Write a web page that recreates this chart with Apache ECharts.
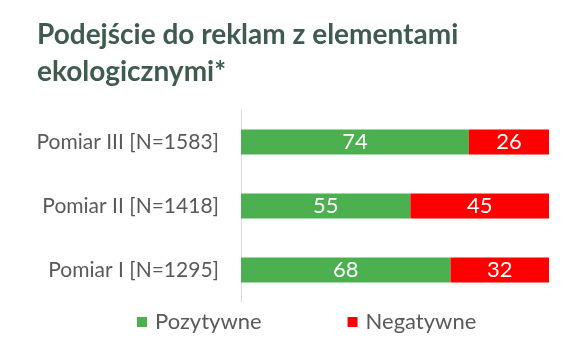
<!DOCTYPE html>
<html><head><meta charset="utf-8">
<script src="https://cdn.jsdelivr.net/npm/echarts@6/dist/echarts.min.js"></script>
<style>html,body{margin:0;padding:0;background:#fff}#c{width:569px;height:358px}</style>
</head><body><div id="c"></div>
<script>
const categories = ['Pomiar I [N=1295]', 'Pomiar II [N=1418]', 'Pomiar III [N=1583]'];
const positive = [68, 55, 74];
const negative = [32, 45, 26];
const seriesNames = ['Pozytywne', 'Negatywne'];
const titleText = 'Podejście do reklam z elementami\nekologicznymi*';

const chart = echarts.init(document.getElementById('c'));
const FONT = 'Lato';
chart.setOption({
  animation: false,
  backgroundColor: '#fff',
  title: {
    text: titleText,
    left: 32, top: 11,
    textStyle: { fontFamily: FONT, fontSize: 28, fontWeight: 'bold', color: '#3f5b4f', lineHeight: 37 }
  },
  legend: {
    data: seriesNames,
    left: 132, top: 306,
    icon: 'rect', itemWidth: 10, itemHeight: 10, itemGap: 86,
    textStyle: { fontFamily: FONT, fontSize: 22, color: '#595959', padding: [0, 0, 0, 3] }
  },
  grid: { left: 241, right: 20, top: 110, bottom: 56, containLabel: false },
  xAxis: { type: 'value', min: 0, max: 100, show: false },
  yAxis: {
    type: 'category', data: categories,
    axisLine: { show: true, lineStyle: { color: '#d9d9d9', width: 1 } },
    axisTick: { show: false },
    axisLabel: { fontFamily: FONT, fontSize: 21, color: '#595959', margin: 22 }
  },
  series: [
    { name: seriesNames[0], type: 'bar', stack: 't', data: positive, barWidth: '39%',
      itemStyle: { color: '#4caf50' },
      label: { show: true, position: 'inside', color: '#fff', fontFamily: FONT, fontSize: 22 } },
    { name: seriesNames[1], type: 'bar', stack: 't', data: negative, barWidth: '39%',
      itemStyle: { color: '#ff0000' },
      label: { show: true, position: 'inside', color: '#fff', fontFamily: FONT, fontSize: 22 } }
  ]
});
</script></body></html>
